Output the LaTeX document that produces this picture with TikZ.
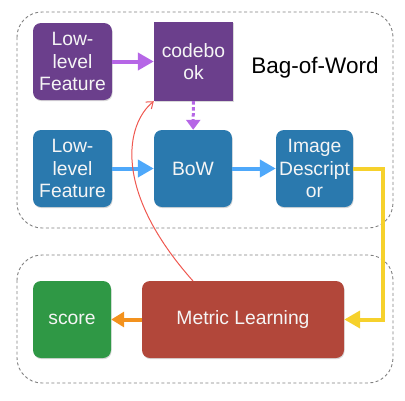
\documentclass[tikz,border=0pt]{standalone}
\usepackage{fontspec}
\setmainfont{Liberation Sans}
\usetikzlibrary{arrows.meta,shadows}
\definecolor{lowpurple}{HTML}{6B3F8C}
\definecolor{lowblue}{HTML}{2A79AE}
\definecolor{scoregreen}{HTML}{2F9845}
\definecolor{metricred}{HTML}{B2473A}
\definecolor{arrpurple}{HTML}{B666E6}
\definecolor{arrblue}{HTML}{4EA8FA}
\definecolor{arryellow}{HTML}{F6D12C}
\definecolor{arrorange}{HTML}{F3921E}
\definecolor{arrred}{HTML}{EF5850}
\tikzset{
 blk/.style
  = {rectangle, text=white!92!gray, align=center, rounded corners=8pt, inner sep=0pt,
     minimum width=79pt, minimum height=77pt,
     font=\fontsize{19.3}{22.5}\selectfont,
     drop shadow={opacity=0.3, shadow xshift=0.6pt, shadow yshift=-1.2pt}},
 frame/.style
  = {draw=gray, dash pattern=on 3pt off 2.5pt, line width=0.9pt, rounded corners=25pt},
 fat/.style
  = {line width=4pt, -{Triangle[length=16pt,width=17pt]}},
}

\begin{document}
\begin{tikzpicture}[x=1pt,y=-1pt]
\useasboundingbox (0,0) rectangle (405,400);

% Frames
\draw[frame] (17,12) rectangle (393,228);
\draw[frame] (17,255) rectangle (393,383);

% Bag-of-Word part
\node[blk, fill=lowpurple] (lowA) at (72.5,61.5) {Low-\\level\\Feature};
\node[blk, fill=lowpurple, rounded corners=0pt, minimum height=79pt] (code) at (193.5,61.5) {codebo\\ok};
\node[font=\fontsize{22.5}{26}\selectfont] (bag) at (315,68) {Bag-of-Word};
\node[blk, fill=lowblue] (lowB) at (72.5,168.5) {Low-\\level\\Feature};
\node[blk, fill=lowblue, minimum width=78pt] (bow) at (193,168.5) {BoW};
\node[blk, fill=lowblue, minimum width=77pt] (desc) at (314.5,168.5) {Image\\Descript\\or};

% Learning part
\node[blk, fill=scoregreen, minimum width=78pt] (score) at (72,319.5) {score};
\node[blk, fill=metricred, minimum width=202pt] (metric) at (243,319.5) {Metric Learning};

% Arrows
\draw[fat, arrpurple] (lowA) -- (code);
\draw[arrpurple, line width=3pt, dash pattern=on 3.5pt off 2.5pt,
      -{Triangle[length=10pt,width=14pt]}] (code) -- (bow);
\draw[fat, arrblue] (lowB) -- (bow);
\draw[fat, arrblue] (bow) -- (desc);
\coordinate (turn) at (383,168.5);
\draw[fat, arryellow, -{Triangle[length=16pt,width=17pt]}] (desc.east) -- (turn) |- (metric.east);
\draw[fat, arrorange, -{Triangle[length=13pt,width=15pt]}] (metric) -- (score);

% Feedback to codebook
\coordinate (back) at (193,281);
\draw[arrred, line width=1pt, -{Straight Barb[length=6pt,width=9pt]}]
  (back) .. controls (112,190) and (126,124) .. (code.south west);

\end{tikzpicture}
\end{document}
